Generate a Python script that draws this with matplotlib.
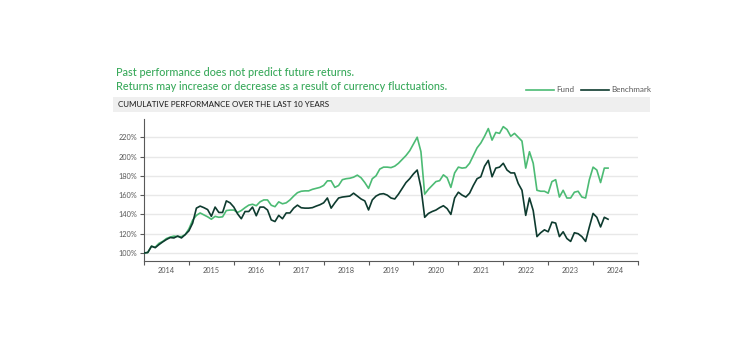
import matplotlib
matplotlib.use("Agg")
import matplotlib.pyplot as plt
import numpy as np

# monthly cumulative performance, % (start = 100)
fund = [
    100, 100.5, 107, 106, 110, 112, 115, 116.5, 117.5, 117, 117, 119,
    125, 134, 139, 141.5, 139.5, 137.5, 135, 138, 137, 137.5, 144, 144.5,
    144.5, 142, 144, 147, 149.6, 150.5, 149, 153, 155, 155, 149.5, 148,
    153, 151, 152, 155, 159, 162.5, 164, 164.4, 164.4, 166, 167, 168,
    170, 174.8, 174.8, 168, 170, 176, 177, 177.5, 178.6, 180.7, 178, 173,
    167, 177, 180, 187, 189, 189, 188.5, 190, 193, 197, 201, 206,
    213, 220, 205, 161, 166, 170, 174, 175, 181, 178, 168, 183,
    189, 188, 188.5, 193, 201, 209, 214, 221, 229, 217, 225, 224,
    231, 228, 221, 224, 220, 216, 188, 205, 193, 165, 164, 164,
    162, 174, 176, 158, 165, 157, 157, 163, 164, 158, 157, 176,
    189, 186, 173, 188, 188,
]
benchmark = [
    100, 100.5, 107, 105.5, 108.7, 111.5, 114, 116, 115.6, 117.6, 115.6, 119,
    123, 131, 146.5, 148.6, 147, 145, 138, 147.6, 142, 142, 154, 152,
    147.6, 140.6, 135.5, 143, 143, 147.6, 138.6, 147.6, 147.6, 144.6, 134.3, 132.6,
    139, 135.5, 141.5, 141.5, 146.5, 149.6, 146.9, 146.5, 146.5, 147, 148.6, 150,
    152, 157, 146.5, 152, 157, 158, 158.5, 159, 162, 159, 156, 154,
    144.6, 155, 159, 161, 161.5, 160, 157, 156, 161, 167, 173, 177,
    182, 186, 168, 137, 141, 143, 144.5, 147, 149, 146, 140, 157,
    163, 160, 158, 162, 170, 177, 179, 190, 196, 179, 188, 189,
    193, 186, 183, 183, 172, 165, 139, 157, 144, 117, 121, 124,
    122, 132, 131, 117, 122, 115, 112, 121, 120, 117, 112, 127,
    141, 137, 127, 137, 135,
]
years = [str(y) for y in range(2014, 2025)]
y_ticks = [100, 120, 140, 160, 180, 200, 220]

FUND_COLOR = "#4cbb74"
BENCH_COLOR = "#0e3b2f"
NOTE_COLOR = "#3aaa5c"
TICK_COLOR = "#595959"

plt.rcParams["font.family"] = ["Lato", "DejaVu Sans"]

fig = plt.figure(figsize=(7.5, 3.5), dpi=100)
W, H = 750, 350


def fx(px):
    return px / W


def fy(py):
    return 1 - py / H


# notes at top
fig.text(fx(116), fy(73), "Past performance does not predict future returns.",
         color=NOTE_COLOR, fontsize=7.8, va="center", ha="left", fontweight="medium")
fig.text(fx(116), fy(86), "Returns may increase or decrease as a result of currency fluctuations.",
         color=NOTE_COLOR, fontsize=7.8, va="center", ha="left", fontweight="medium")

# header band
band = fig.add_axes([fx(113), fy(112), fx(650 - 113), (112 - 97) / H])
band.set_facecolor("#efefef")
band.set_xticks([])
band.set_yticks([])
for s in band.spines.values():
    s.set_visible(False)
band.text(0.009, 0.5, "CUMULATIVE PERFORMANCE OVER THE LAST 10 YEARS",
          transform=band.transAxes, fontsize=5.8, va="center", ha="left", color="#1a1a1a")

# main chart
ax = fig.add_axes([fx(144), fy(261), fx(638 - 144), (261 - 119) / H])
t = np.arange(len(fund)) / 12.0
ax.plot(t, fund, color=FUND_COLOR, lw=1.2, label="Fund", zorder=3)
ax.plot(t, benchmark, color=BENCH_COLOR, lw=1.2, label="Benchmark", zorder=3)

ax.set_xlim(0, 11)
ax.set_ylim(91.7, 238.9)

ax.set_yticks(y_ticks)
ax.set_yticklabels([f"{v}%" for v in y_ticks])
ax.yaxis.grid(True, color="#e8e8e8", lw=1)
ax.set_axisbelow(True)

ax.set_xticks(np.arange(0, 12))
ax.set_xticklabels([])
ax.set_xticks(np.arange(0.5, 11), minor=True)
ax.set_xticklabels(years, minor=True)
ax.tick_params(axis="x", which="minor", length=0, pad=4, labelsize=5.3, labelcolor=TICK_COLOR)
ax.tick_params(axis="x", which="major", length=3, width=0.8, color=TICK_COLOR)
ax.tick_params(axis="y", length=3, width=0.8, color=TICK_COLOR, pad=2, labelsize=5.3, labelcolor=TICK_COLOR)

for side in ["top", "right"]:
    ax.spines[side].set_visible(False)
for side in ["left", "bottom"]:
    ax.spines[side].set_color(TICK_COLOR)
    ax.spines[side].set_linewidth(0.8)

fig.legend(loc="center right", bbox_to_anchor=(fx(651), fy(90)), ncol=2, frameon=False,
           fontsize=5.8, handlelength=3.4, handletextpad=0.3, columnspacing=0.9,
           labelcolor=TICK_COLOR, borderaxespad=0, borderpad=0)

fig.savefig("out.png", dpi=100, facecolor="white")
